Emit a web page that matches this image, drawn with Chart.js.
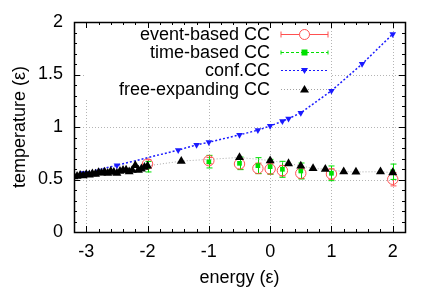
<!DOCTYPE html>
<html>
<head>
<meta charset="utf-8">
<script src="https://cdn.jsdelivr.net/npm/chart.js@4"></script>
<style>
  html, body { margin: 0; padding: 0; background: #fff; }
</style>
</head>
<body>
<canvas id="chart" width="436" height="305"></canvas>
<script>
// tick labels
const xTicks = [-3, -2, -1, 0, 1, 2];
const yTicks = [0, 0.5, 1, 1.5, 2];

// event-based CC / time-based CC share the same energies
const ccEnergy = [-2, -1, -0.5, -0.2, 0, 0.2, 0.5, 1, 2];
const eventT = [0.648, 0.679, 0.648, 0.606, 0.600, 0.584, 0.559, 0.552, 0.502];
const eventErr = [0.04, 0.03, 0.05, 0.05, 0.05, 0.05, 0.05, 0.05, 0.063];
const timeT = [0.622, 0.670, 0.654, 0.632, 0.622, 0.597, 0.581, 0.559, 0.574];
const timeErr = [0.05, 0.06, 0.06, 0.076, 0.07, 0.076, 0.076, 0.07, 0.073];

// conf.CC
const confEnergy = [-3.05, -2.5, -1.5, -1.2, -1, -0.5, -0.2, 0, 0.2, 0.3, 0.5, 1, 1.5, 2];
const confT = [0.56, 0.635, 0.78, 0.83, 0.855, 0.925, 0.97, 1.01, 1.055, 1.08, 1.135, 1.345, 1.6, 1.885];

// free-expanding CC
const freeEnergy = [-3.2, -3.15, -3.1, -3.05, -3.0, -2.95, -2.9, -2.85, -2.8, -2.75, -2.7, -2.65, -2.6,
  -2.55, -2.5, -2.45, -2.4, -2.35, -2.3, -2.25, -2.2, -2.15, -2.1, -2.05, -2.0,
  -1.45, -0.5, 0, 0.3, 0.5, 0.7, 0.9, 1.2, 1.4, 1.8, 2];
const freeT = [0.528, 0.532, 0.540, 0.536, 0.548, 0.545, 0.556, 0.552, 0.566, 0.562, 0.572, 0.560, 0.578,
  0.570, 0.560, 0.580, 0.588, 0.590, 0.575, 0.588, 0.635, 0.590, 0.602, 0.618, 0.630,
  0.675, 0.710, 0.680, 0.652, 0.630, 0.605, 0.598, 0.575, 0.572, 0.574, 0.566];

const RED = '#ff5050';
const GREEN = '#00e000';
const BLUE = '#1a1aff';
const FONT = '"Liberation Sans", Arial, sans-serif';

const toPts = (xs, ys) => xs.map((x, i) => ({ x: x, y: ys[i] }));

// grid, error bars, frame, ticks and key drawn gnuplot style
const gnuplotLook = {
  id: 'gnuplotLook',
  beforeDatasetsDraw(chart) {
    const { ctx, chartArea: a, scales: { x, y } } = chart;
    ctx.save();
    ctx.strokeStyle = '#b4b4b4';
    ctx.lineWidth = 1;
    ctx.setLineDash([1, 2]);
    xTicks.forEach(v => {
      const px = Math.round(x.getPixelForValue(v)) + 0.5;
      ctx.beginPath(); ctx.moveTo(px, a.top); ctx.lineTo(px, a.bottom); ctx.stroke();
    });
    yTicks.slice(1, -1).forEach(v => {
      const py = Math.round(y.getPixelForValue(v)) + 0.5;
      ctx.beginPath(); ctx.moveTo(a.left, py); ctx.lineTo(a.right, py); ctx.stroke();
    });
    ctx.setLineDash([]);
    // key background
    ctx.fillStyle = '#fff';
    ctx.fillRect(a.left + 12, a.top + 1, 244, 75);

    // error bars
    const bars = (vals, errs, color) => {
      ctx.strokeStyle = color;
      ctx.lineWidth = 1;
      ccEnergy.forEach((e, i) => {
        const px = Math.round(x.getPixelForValue(e)) + 0.5;
        const lo = y.getPixelForValue(vals[i] - errs[i]);
        const hi = y.getPixelForValue(vals[i] + errs[i]);
        ctx.beginPath();
        ctx.moveTo(px, lo); ctx.lineTo(px, hi);
        ctx.moveTo(px - 3, lo); ctx.lineTo(px + 3, lo);
        ctx.moveTo(px - 3, hi); ctx.lineTo(px + 3, hi);
        ctx.stroke();
      });
    };
    bars(eventT, eventErr, RED);
    bars(timeT, timeErr, GREEN);
    ctx.restore();
  },
  afterDatasetsDraw(chart) {
    const { ctx, chartArea: a, scales: { x, y } } = chart;
    ctx.save();
    ctx.strokeStyle = '#000';
    ctx.lineWidth = 1;
    // ticks (inside, mirrored)
    ctx.beginPath();
    for (let v = -3.2; v <= 2.21; v += 0.2) {
      const r = Math.round(v * 10) / 10;
      const len = Number.isInteger(r) ? 6 : 3;
      const px = Math.round(x.getPixelForValue(r)) + 0.5;
      ctx.moveTo(px, a.bottom); ctx.lineTo(px, a.bottom - len);
      ctx.moveTo(px, a.top); ctx.lineTo(px, a.top + len);
    }
    for (let k = 0; k <= 20; k++) {
      const len = k % 5 === 0 ? 6 : 3;
      const py = Math.round(y.getPixelForValue(k / 10)) + 0.5;
      ctx.moveTo(a.left, py); ctx.lineTo(a.left + len, py);
      ctx.moveTo(a.right, py); ctx.lineTo(a.right - len, py);
    }
    ctx.stroke();
    // frame
    ctx.lineWidth = 1.5;
    ctx.strokeRect(Math.round(a.left) + 0.5, Math.round(a.top) + 0.5,
      Math.round(a.right - a.left), Math.round(a.bottom - a.top));

    // key
    const labels = ['event-based CC', 'time-based CC', 'conf.CC', 'free-expanding CC'];
    const tx = a.left + 196, x0 = a.left + 207, x1 = a.left + 254, xm = (x0 + x1) / 2;
    ctx.font = '18px ' + FONT;
    ctx.fillStyle = '#000';
    ctx.textAlign = 'right';
    ctx.textBaseline = 'middle';
    labels.forEach((t, i) => {
      const ry = a.top + 12 + i * 18.2;
      ctx.fillText(t, tx, ry + 1);
      const py = Math.round(ry) + 0.5;
      ctx.lineWidth = 1;
      if (i === 0) {
        ctx.strokeStyle = RED; ctx.setLineDash([]);
        ctx.beginPath();
        ctx.moveTo(x0, py); ctx.lineTo(x1, py);
        ctx.moveTo(x0, py - 3); ctx.lineTo(x0, py + 3);
        ctx.moveTo(x1, py - 3); ctx.lineTo(x1, py + 3);
        ctx.stroke();
        ctx.beginPath(); ctx.fillStyle = '#fff'; ctx.arc(xm, py, 5, 0, Math.PI * 2); ctx.fill(); ctx.stroke();
      } else if (i === 1) {
        ctx.strokeStyle = GREEN; ctx.setLineDash([3, 2]);
        ctx.beginPath(); ctx.moveTo(x0, py); ctx.lineTo(x1, py); ctx.stroke();
        ctx.setLineDash([]);
        ctx.beginPath();
        ctx.moveTo(x0, py - 2); ctx.lineTo(x0, py + 2);
        ctx.moveTo(x1, py - 2); ctx.lineTo(x1, py + 2);
        ctx.stroke();
        ctx.fillStyle = GREEN; ctx.fillRect(xm - 3, py - 3, 6, 6);
      } else if (i === 2) {
        ctx.strokeStyle = BLUE; ctx.setLineDash([2, 2]);
        ctx.beginPath(); ctx.moveTo(x0, py); ctx.lineTo(x1, py); ctx.stroke();
        ctx.setLineDash([]);
        ctx.fillStyle = BLUE;
        ctx.beginPath(); ctx.moveTo(xm - 3.5, py - 2.5); ctx.lineTo(xm + 3.5, py - 2.5); ctx.lineTo(xm, py + 3.5); ctx.fill();
      } else {
        ctx.strokeStyle = '#a0a0a0'; ctx.setLineDash([1, 2]);
        ctx.beginPath(); ctx.moveTo(x0, py); ctx.lineTo(x1, py); ctx.stroke();
        ctx.setLineDash([]);
        ctx.fillStyle = '#000';
        ctx.beginPath(); ctx.moveTo(xm - 4.5, py + 3); ctx.lineTo(xm + 4.5, py + 3); ctx.lineTo(xm, py - 4.5); ctx.fill();
      }
      ctx.fillStyle = '#000';
    });
    ctx.restore();
  }
};

new Chart(document.getElementById('chart'), {
  type: 'scatter',
  data: {
    datasets: [
      {
        label: 'free-expanding CC',
        data: toPts(freeEnergy, freeT),
        order: 0,
        showLine: true,
        borderColor: '#a8a8a8',
        borderWidth: 1,
        borderDash: [1, 2],
        pointStyle: 'triangle',
        pointRadius: 5.2,
        pointBackgroundColor: '#000',
        pointBorderColor: '#000',
        pointBorderWidth: 0
      },
      {
        label: 'conf.CC',
        data: toPts(confEnergy, confT),
        order: 1,
        showLine: true,
        borderColor: BLUE,
        borderWidth: 1.5,
        borderDash: [2, 2],
        pointStyle: 'triangle',
        rotation: 180,
        pointRadius: 3.8,
        pointBackgroundColor: BLUE,
        pointBorderColor: BLUE,
        pointBorderWidth: 0
      },
      {
        label: 'time-based CC',
        data: toPts(ccEnergy, timeT),
        order: 2,
        showLine: false,
        pointStyle: 'rect',
        pointRadius: 3.3,
        pointBackgroundColor: GREEN,
        pointBorderColor: GREEN,
        pointBorderWidth: 0
      },
      {
        label: 'event-based CC',
        data: toPts(ccEnergy, eventT),
        order: 3,
        showLine: false,
        pointStyle: 'circle',
        pointRadius: 5.2,
        pointBackgroundColor: 'rgba(0,0,0,0)',
        pointBorderColor: RED,
        pointBorderWidth: 1
      }
    ]
  },
  options: {
    responsive: false,
    animation: false,
    layout: { padding: { left: 0, top: 22, right: 31, bottom: 0 } },
    plugins: { legend: { display: false }, tooltip: { enabled: false } },
    scales: {
      x: {
        type: 'linear',
        min: -3.2,
        max: 2.2,
        afterBuildTicks: s => { s.ticks = xTicks.map(v => ({ value: v })); },
        afterFit: s => { s.height = 73; },
        grid: { display: false, drawTicks: false },
        border: { display: false },
        ticks: { color: '#000', font: { family: FONT, size: 18 }, padding: 9, maxRotation: 0, autoSkip: false,
          callback: v => String(v) },
        title: { display: true, text: 'energy (ε)', color: '#000', font: { family: FONT, size: 18 }, padding: { top: 0, bottom: 16 } }
      },
      y: {
        min: 0,
        max: 2,
        afterBuildTicks: s => { s.ticks = yTicks.map(v => ({ value: v })); },
        afterFit: s => { s.width = 74; },
        grid: { display: false, drawTicks: false },
        border: { display: false },
        ticks: { color: '#000', font: { family: FONT, size: 18 }, padding: 11, autoSkip: false,
          callback: v => String(v) },
        title: { display: true, text: 'temperature (ε)', color: '#000', font: { family: FONT, size: 18 }, padding: { top: 9, bottom: 0 } }
      }
    }
  },
  plugins: [gnuplotLook]
});
</script>
</body>
</html>
